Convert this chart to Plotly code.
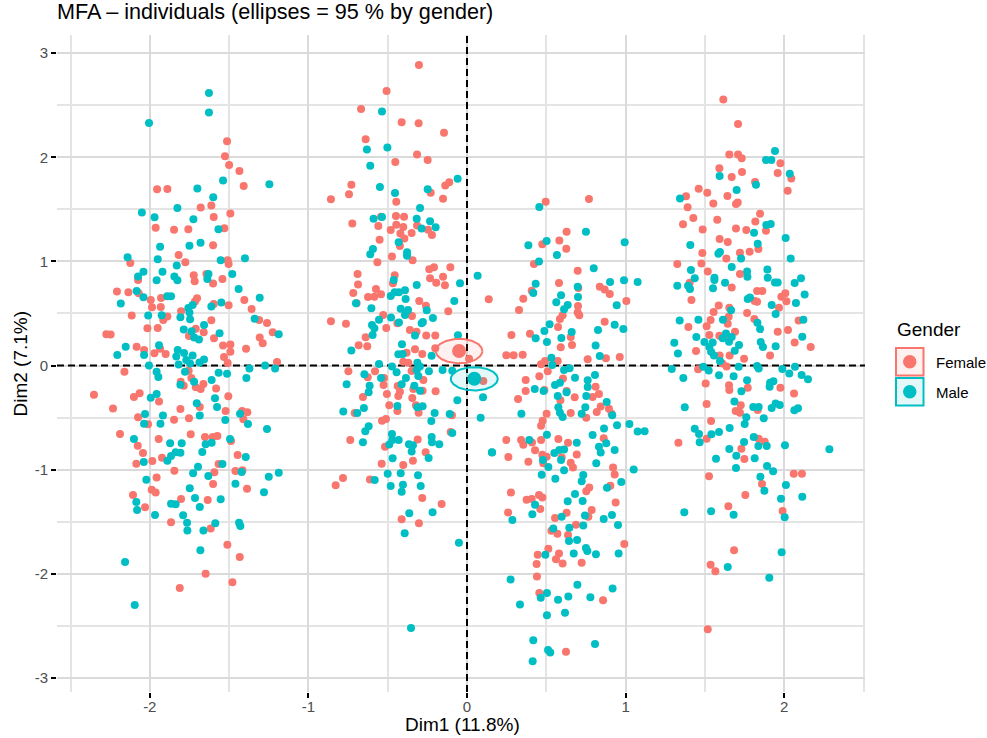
import numpy as np
import plotly.graph_objects as go

TITLE = "MFA – individuals (ellipses = 95 % by gender)"
X_TITLE = "Dim1 (11.8%)"
Y_TITLE = "Dim2 (7.1%)"
LEGEND_TITLE = "Gender"
genders = ["Female", "Male"]
x_ticks = [-2, -1, 0, 1, 2]
x_tick_labels = ["-2", "-1", "0", "1", "2"]
y_ticks = [-3, -2, -1, 0, 1, 2, 3]
y_tick_labels = ["-3", "-2", "-1", "0", "1", "2", "3"]

centroid_x = [-0.05, 0.046]
centroid_y = [0.139, -0.128]
ellipse_rx = [0.147, 0.148]
ellipse_ry = [0.117, 0.112]

female_points = [
(-1.513,2.154),(-1.526,2.01),(-1.5,1.927),(-1.435,1.869),(-1.408,1.725),(-1.954,1.693),(-1.889,1.696),(-1.679,1.517),(-1.612,1.536),(-1.492,1.459),
(-1.597,1.427),(-1.963,1.324),(-1.847,1.305),(-1.757,1.308),(-1.53,1.318),(-1.601,1.155),(-1.818,1.062),(-2.123,0.985),(-1.776,0.992),(-1.509,1.01),
(-1.503,0.975),(-1.723,0.867),(-1.643,0.88),(-1.717,0.809),(-1.542,0.83),(-1.601,0.787),(-2.074,0.822),(-2.207,0.71),(-2.135,0.703),(-2.07,0.694),
(-1.994,0.63),(-1.929,0.649),(-1.702,0.646),(-1.715,0.614),(-1.597,0.591),(-1.503,0.578),(-1.404,0.63),(-1.358,0.543),(-1.986,0.559),(-1.931,0.562),
(-2.114,0.48),(-1.803,0.521),(-1.889,0.47),(-1.915,0.438),(-1.612,0.434),(-1.311,0.438),(-1.261,0.409),(-2.015,0.357),(-1.95,0.361),(-1.71,0.354),
(-1.66,0.319),(-1.225,0.319),(-2.274,0.3),(-2.247,0.297),(-1.753,0.284),(-1.595,0.261),(-1.307,0.268),(-1.288,0.213),(-2.083,0.181),(-2.036,0.149),
(-1.935,0.162),(-1.538,0.191),(-1.492,0.201),(-1.393,0.162),(-1.492,0.133),(-1.971,0.117),(-1.9,0.111),(-1.532,0.082),(-1.509,0.025),(-1.198,0.034),
(-2.16,-0.06),(-1.755,-0.05),(-1.738,-0.12),(-1.805,-0.155),(-1.786,-0.194),(-1.662,-0.178),(-1.71,-0.21),(-1.679,-0.226),(-1.582,-0.222),(-2.352,-0.28),
(-2.1,-0.302),(-2.064,-0.267),(-1.505,-0.296),(-1.942,-0.347),(-1.685,-0.398),(-2.232,-0.414),(-1.807,-0.418),(-1.522,-0.437),(-1.418,-0.437),(-1.385,-0.45),
(-1.41,-0.517),(-2.074,-0.498),(-1.847,-0.52),(-1.753,-0.507),(-2.011,-0.565),(-2.188,-0.658),(-1.742,-0.661),(-1.652,-0.687),(-1.603,-0.687),(-1.574,-0.677),
(-1.944,-0.706),(-1.488,-0.725),(-2.076,-0.77),(-2.043,-0.84),(-1.446,-0.86),(-1.923,-0.885),(-1.984,-0.917),(-2.085,-0.943),(-1.566,-0.946),(-1.845,-1.01),
(-1.46,-1.013),(-1.416,-1.007),(-1.593,-1.026),(-1.957,-1.077),(-1.601,-1.138),(-1.387,-1.183),(-1.988,-1.193),(-1.963,-1.221),(-2.106,-1.244),(-1.803,-1.282),
(-1.635,-1.292),(-2.03,-1.362),(-1.866,-1.506),(-1.616,-1.567),(-1.511,-1.721),(-1.433,-1.84),(-1.648,-2.0),(-1.479,-2.083),(-1.811,-2.137),
(-0.303,2.887),(-0.507,2.637),(-0.668,2.464),(-0.412,2.336),(-0.305,2.327),(-0.145,2.237),(-0.639,2.173),(-0.315,2.026),(-0.248,1.974),(-0.452,1.955),
(-0.729,1.737),(-0.744,1.644),(-0.858,1.596),(-0.112,1.76),(-0.137,1.728),(-0.229,1.66),(-0.151,1.603),(-0.446,1.574),(-0.542,1.43),(-0.448,1.436),
(-0.397,1.43),(-0.723,1.363),(-0.559,1.34),(-0.446,1.353),(-0.402,1.331),(-0.315,1.344),(-0.246,1.305),(-0.481,1.302),(-0.42,1.267),(-0.221,1.254),
(-0.349,1.273),(-0.395,1.219),(-0.551,1.209),(-0.423,1.148),(-0.473,1.046),(-0.343,1.01),(-0.565,0.991),(-0.69,0.879),(-0.208,0.943),(-0.238,0.924),
(-0.105,0.943),(-0.456,0.866),(-0.233,0.838),(-0.151,0.853),(-0.467,0.79),(-0.194,0.796),(-0.139,0.77),(-0.687,0.777),(-0.574,0.735),(-0.717,0.697),
(-0.542,0.684),(-0.624,0.658),(-0.584,0.661),(-0.696,0.597),(-0.301,0.62),(-0.259,0.575),(0.137,0.636),(-0.118,0.52),(-0.347,0.476),(-0.528,0.485),
(-0.858,0.425),(-0.763,0.402),(-0.439,0.405),(-0.509,0.36),(-0.36,0.34),(-0.318,0.325),(-0.639,0.271),(-0.257,0.287),(-0.2,0.287),(-0.683,0.194),
(-0.629,0.184),(-0.2,0.165),(-0.381,0.123),(-0.328,0.155),(-0.282,0.11),(0.013,0.066),(-0.402,0.037),(-0.37,0.027),(-0.748,-0.056),(-0.58,-0.056),
(-0.349,-0.053),(-0.626,-0.114),(-0.523,-0.12),(-0.526,-0.187),(-0.275,-0.139),(-0.437,-0.197),(-0.423,-0.251),(-0.433,-0.293),(-0.28,-0.242),(-0.338,-0.226),
(-0.198,-0.248),(-0.505,-0.274),(-0.656,-0.303),(-0.345,-0.312),(-0.49,-0.383),(-0.322,-0.383),(-0.439,-0.437),(-0.305,-0.453),(-0.708,-0.456),(-0.095,-0.479),
(-0.536,-0.53),(-0.511,-0.514),(-0.103,-0.639),(-0.736,-0.716),(-0.311,-0.712),(-0.517,-0.78),(-0.261,-0.834),(-0.341,-0.914),(-0.538,-0.943),(-0.402,-0.956),
(-0.782,-1.081),(-0.828,-1.151),(-0.612,-1.094),(-0.282,-1.273),(-0.16,-1.33),(-0.412,-1.478),(-0.303,-1.516),(0.103,-0.149),
(0.496,1.574),(0.769,1.6),(0.628,1.286),(0.475,1.164),(0.582,1.2),(0.626,1.122),(0.422,0.975),(0.698,0.911),(0.58,0.793),(0.408,0.719),
(0.702,0.745),(0.837,0.757),(0.868,0.729),(0.9,0.687),(1.005,0.62),(0.355,0.642),(0.328,0.533),(0.7,0.572),(0.698,0.508),(0.708,0.482),
(0.603,0.482),(0.586,0.447),(0.574,0.37),(0.868,0.421),(0.28,0.293),(0.397,0.306),(0.654,0.274),(0.662,0.197),(0.591,0.175),(0.248,0.098),
(0.294,0.098),(0.351,0.104),(0.761,0.06),(0.876,0.069),(0.963,0.082),(0.492,0.043),(0.467,0.011),(0.572,0.043),(0.509,-0.056),(0.456,-0.104),
(0.605,-0.126),(0.37,-0.139),(0.37,-0.245),(0.488,-0.235),(0.628,-0.245),(0.322,-0.322),(0.679,-0.306),(0.589,-0.335),(0.811,-0.203),(0.832,-0.274),
(0.792,-0.302),(0.843,-0.395),(0.818,-0.447),(0.895,-0.415),(0.912,-0.463),(0.502,-0.463),(0.654,-0.456),(0.752,-0.501),(0.477,-0.53),(0.467,-0.578),
(0.248,-0.716),(0.341,-0.716),(0.355,-0.761),(0.41,-0.739),(0.467,-0.716),(0.576,-0.707),(0.637,-0.742),(0.862,-0.7),(0.429,-0.815),(0.475,-0.857),
(0.502,-0.876),(0.692,-0.854),(0.261,-0.879),(0.387,-0.924),(0.597,-0.883),(0.481,-0.94),(0.654,-0.934),(0.668,-0.979),(0.921,-0.979),(0.931,-1.046),
(0.904,-1.155),(0.771,-1.171),(0.752,-1.209),(0.277,-1.219),(0.454,-1.244),(0.475,-1.267),(0.408,-1.283),(0.376,-1.289),(0.937,-1.315),(0.462,-1.379),
(0.786,-1.389),(0.628,-1.414),(0.259,-1.411),(0.765,-1.453),(0.555,-1.465),(0.687,-1.53),(0.532,-1.587),(0.57,-1.616),(0.637,-1.629),(0.992,-1.715),
(0.513,-1.76),(0.58,-1.805),(0.446,-1.818),(0.561,-1.862),(0.603,-1.901),(0.439,-1.907),(0.723,-1.894),(0.441,-2.026),(0.456,-2.186),(0.858,-2.256),(0.624,-2.749),
(1.616,2.556),(1.709,2.319),(1.654,2.028),(1.709,2.028),(1.732,1.99),(1.976,1.942),(1.591,1.894),(1.734,1.858),(1.959,1.849),(1.669,1.81),
(2.045,1.797),(1.816,1.762),(2.022,1.679),(1.461,1.698),(1.515,1.66),(1.381,1.625),(1.642,1.628),(1.707,1.567),(1.696,1.551),(1.553,1.557),
(1.391,1.519),(1.848,1.458),(1.427,1.416),(1.578,1.4),(1.818,1.384),(1.362,1.356),(1.696,1.317),(1.486,1.307),(1.761,1.301),(1.885,1.295),
(1.593,1.215),(1.644,1.186),(1.837,1.119),(1.782,1.093),(1.721,1.083),(1.484,1.08),(1.635,1.029),(1.326,0.975),(1.478,0.981),(1.518,0.904),
(1.721,0.878),(1.404,0.795),(1.669,0.75),(1.829,0.715),(1.862,0.715),(2.007,0.693),(1.982,0.661),(1.415,0.629),(1.814,0.619),(1.829,0.613),
(2.014,0.616),(1.587,0.577),(1.654,0.555),(1.967,0.555),(1.555,0.513),(1.766,0.504),(1.65,0.469),(1.536,0.437),(1.812,0.446),(2.091,0.433),
(1.644,0.402),(1.511,0.376),(1.396,0.369),(1.69,0.325),(1.959,0.325),(2.024,0.34),(1.528,0.293),(1.591,0.286),(1.656,0.261),(2.066,0.222),
(2.167,0.177),(1.444,0.139),(1.911,0.097),(1.656,0.097),(1.593,0.097),(1.747,0.065),(1.61,0.02),(1.637,-0.01),
(1.457,-0.037),(1.505,-0.174),(1.652,-0.19),(1.654,-0.235),(1.77,-0.213),(1.976,-0.213),(2.062,-0.27),(1.511,-0.37),(1.726,-0.382),(1.833,-0.427),
(1.694,-0.437),(1.721,-0.453),(1.539,-0.533),(1.511,-0.703),(1.333,-0.741),(1.839,-0.703),(1.877,-0.732),(1.73,-0.799),(1.749,-0.898),(1.526,-1.064),
(2.06,-1.039),(2.112,-1.039),(1.86,-1.138),(1.755,-1.244),(1.648,-1.353),(1.99,-1.398),(1.684,-1.775),(1.536,-1.913),(1.566,-1.977),(1.518,-2.534),
]

male_points = [
(-1.627,2.618),(-1.627,2.43),(-2.005,2.33),(-1.538,1.776),(-1.246,1.74),(-1.7,1.7),(-1.6,1.616),(-1.826,1.514),(-2.05,1.47),(-1.97,1.424),
(-1.725,1.405),(-1.567,1.31),(-1.935,1.14),(-1.75,1.15),(-1.68,1.18),(-2.14,1.04),(-1.95,1.02),(-1.553,1.01),(-1.4,1.03),(-1.83,0.96),
(-2.04,0.9),(-1.92,0.9),(-2.074,0.854),(-1.957,0.82),(-1.845,0.854),(-1.826,0.82),(-1.63,0.88),(-1.637,0.83),(-1.48,0.88),(-1.44,0.735),
(-2.083,0.716),(-2.04,0.655),(-1.89,0.665),(-1.866,0.665),(-2.183,0.595),(-1.307,0.65),(-1.549,0.604),(-1.612,0.566),(-1.73,0.58),(-1.757,0.553),
(-1.75,0.508),(-2.01,0.48),(-1.925,0.482),(-1.807,0.463),(-1.746,0.444),(-1.339,0.45),(-1.658,0.39),(-1.786,0.345),(-1.736,0.33),(-1.56,0.31),
(-1.72,0.27),(-1.69,0.25),(-1.187,0.3),(-2.152,0.18),(-1.942,0.194),(-2.205,0.1),(-2.036,0.1),(-1.824,0.15),(-1.784,0.12),(-1.833,0.086),
(-1.73,0.095),(-1.77,0.053),(-1.658,0.057),(-1.687,0.03),(-1.746,0.02),(-1.818,0.01),(-2.005,0.0),(-1.273,0.0),(-1.372,-0.03),(-1.21,-0.03),
(-1.957,-0.06),(-1.946,-0.11),(-1.778,-0.06),(-1.566,-0.07),(-1.513,-0.08),(-1.391,-0.12),(-1.61,-0.14),(-1.807,-0.184),(-1.721,-0.155),(-1.957,-0.274),
(-1.994,-0.31),(-1.589,-0.315),(-1.704,-0.363),(-1.576,-0.398),(-2.03,-0.466),(-1.917,-0.48),(-1.685,-0.48),(-1.524,-0.523),(-1.431,-0.463),(-1.381,-0.562),
(-2.036,-0.56),(-1.933,-0.56),(-1.261,-0.61),(-2.1,-0.706),(-1.872,-0.747),(-1.799,-0.747),(-1.494,-0.706),(-1.61,-0.741),(-1.648,-0.757),(-1.669,-0.83),
(-1.807,-0.837),(-1.837,-0.834),(-1.866,-0.87),(-1.889,-0.914),(-2.038,-0.927),(-1.395,-0.879),(-1.542,-0.946),(-1.696,-0.972),(-1.727,-1.036),(-1.631,-1.061),
(-1.421,-1.023),(-1.187,-1.03),(-1.25,-1.068),(-2.022,-1.097),(-1.46,-1.135),(-1.748,-1.18),(-1.28,-1.218),(-1.715,-1.273),(-1.553,-1.285),(-2.085,-1.311),
(-1.866,-1.327),(-1.837,-1.333),(-1.685,-1.359),(-2.08,-1.388),(-1.967,-1.436),(-1.79,-1.439),(-1.765,-1.51),(-1.587,-1.516),(-1.437,-1.51),(-1.429,-1.542),
(-1.763,-1.586),(-1.662,-1.586),(-1.681,-1.775),(-2.156,-1.887),(-2.095,-2.3),
(-0.536,2.439),(-0.631,2.074),(-0.502,2.093),(-0.61,1.92),(-0.059,1.795),(-0.549,1.715),(-0.248,1.693),(-0.454,1.657),(-0.296,1.513),(-0.589,1.41),
(-0.536,1.427),(-0.317,1.41),(-0.233,1.385),(-0.198,1.327),(-0.286,1.315),(-0.431,1.183),(-0.593,1.119),(-0.61,1.068),(-0.378,1.087),(-0.378,1.055),
(-0.462,0.822),(-0.317,0.774),(-0.044,0.79),(0.067,0.863),(-0.391,0.722),(-0.429,0.703),(-0.456,0.703),(-0.481,0.668),(-0.387,0.639),(-0.08,0.62),
(-0.7,0.597),(-0.603,0.55),(-0.418,0.546),(-0.372,0.533),(-0.254,0.53),(-0.391,0.485),(-0.479,0.46),(-0.555,0.44),(-0.215,0.457),(-0.278,0.418),
(-0.286,0.405),(-0.599,0.389),(-0.429,0.412),(-0.584,0.357),(-0.595,0.293),(-0.328,0.287),(-0.057,0.29),(-0.41,0.204),(-0.729,0.143),(-0.433,0.107),
(-0.406,0.11),(-0.223,0.094),(-0.555,0.014),(-0.473,-0.01),(-0.313,0.027),(-0.297,-0.01),(-0.444,-0.066),(-0.317,-0.043),(-0.24,-0.056),(-0.154,-0.043),
(-0.093,-0.05),(-0.647,-0.085),(-0.307,-0.101),(-0.542,-0.12),(-0.385,-0.12),(-0.759,-0.181),(-0.614,-0.194),(-0.412,-0.181),(-0.332,-0.194),(-0.62,-0.258),
(-0.296,-0.242),(-0.061,-0.335),(0.101,-0.306),(-0.65,-0.408),(-0.439,-0.389),(-0.313,-0.402),(-0.28,-0.392),(-0.78,-0.443),(-0.692,-0.456),(-0.204,-0.456),
(-0.109,-0.466),(0.086,-0.501),(-0.225,-0.533),(-0.62,-0.584),(-0.641,-0.632),(-0.093,-0.648),(-0.473,-0.658),(-0.223,-0.687),(-0.471,-0.716),(-0.431,-0.716),
(-0.656,-0.738),(-0.49,-0.76),(-0.221,-0.738),(-0.175,-0.757),(-0.366,-0.757),(-0.341,-0.767),(-0.349,-0.825),(0.157,-0.834),(-0.242,-0.889),(-0.469,-0.892),
(-0.5,-1.039),(-0.418,-1.036),(-0.309,-1.055),(-0.582,-1.1),(-0.481,-1.158),(-0.404,-1.145),(-0.292,-1.158),(-0.412,-1.212),(-0.364,-1.42),(-0.217,-1.41),
(-0.393,-1.612),(-0.051,-1.702),(-0.353,-2.522),
(0.456,1.523),(0.75,1.286),(0.994,1.183),(0.387,1.154),(0.502,1.196),(0.567,1.062),(0.454,1.0),(0.799,0.934),(0.433,0.786),(0.418,0.697),
(0.698,0.757),(0.902,0.802),(0.99,0.818),(1.076,0.802),(0.593,0.674),(0.7,0.658),(0.563,0.607),(0.635,0.581),(0.612,0.54),(0.944,0.578),
(0.521,0.396),(0.488,0.332),(0.931,0.392),(0.986,0.351),(0.826,0.341),(0.66,0.322),(0.433,0.261),(0.595,0.264),(0.504,0.226),(0.811,0.191),
(0.837,0.091),(0.532,0.075),(0.538,0.005),(0.647,-0.027),(0.612,-0.043),(0.807,-0.091),(0.681,-0.117),(0.761,-0.142),(0.586,-0.165),(0.555,-0.187),
(0.761,-0.206),(0.427,-0.226),(0.483,-0.245),(0.628,-0.258),(0.572,-0.293),(0.752,-0.293),(0.881,-0.35),(0.576,-0.402),(0.746,-0.402),(0.343,-0.463),
(0.586,-0.453),(0.603,-0.495),(0.723,-0.463),(0.916,-0.479),(1.024,-0.562),(0.946,-0.575),(0.864,-0.604),(1.076,-0.635),(1.12,-0.632),
(0.792,-0.668),(0.504,-0.665),(0.393,-0.716),(0.692,-0.742),(0.878,-0.748),(0.832,-0.78),(0.843,-0.835),(0.931,-0.812),(0.612,-0.806),(0.582,-0.812),
(0.551,-0.841),(0.158,-0.835),(0.593,-0.908),(0.479,-0.908),(0.815,-0.94),(0.513,-0.975),(0.612,-1.007),(0.471,-1.049),(1.051,-1.0),(0.733,-1.052),
(0.557,-1.088),(0.723,-1.113),(0.973,-1.12),(0.883,-1.174),(0.681,-1.235),(0.635,-1.305),(0.729,-1.302),(0.429,-1.337),(0.412,-1.43),(0.286,-1.485),
(0.597,-1.453),(0.744,-1.44),(0.914,-1.437),(0.862,-1.475),(0.952,-1.533),(0.733,-1.536),(0.645,-1.558),(0.544,-1.565),(0.694,-1.677),(0.643,-1.686),
(0.75,-1.754),(0.759,-1.782),(0.813,-1.814),(0.673,-1.805),(0.494,-1.818),(0.956,-1.805),(0.275,-2.055),(0.696,-2.106),(0.918,-2.141),(0.504,-2.186),
(0.465,-2.231),(0.574,-2.25),(0.639,-2.218),(0.778,-2.227),(0.334,-2.295),(0.504,-2.4),(0.618,-2.375),(0.418,-2.64),(0.807,-2.676),(0.511,-2.733),
(0.525,-2.756),(0.414,-2.842),
(1.942,2.06),(1.885,1.974),(1.919,1.974),(2.035,1.842),(1.593,1.82),(1.822,1.737),(1.7,1.685),(1.343,1.605),(1.915,1.359),(1.887,1.349),
(1.81,1.276),(2.009,1.224),(1.408,1.157),(1.833,1.17),(1.595,1.09),(1.585,1.074),(1.728,1.029),(2.041,1.029),(1.669,0.946),(1.412,0.917),
(1.894,0.923),(1.766,0.904),(1.768,0.853),(1.56,0.843),(1.56,0.821),(1.436,0.837),(1.896,0.843),(1.627,0.795),(2.106,0.837),(2.066,0.792),
(1.942,0.798),(1.959,0.798),(1.326,0.766),(1.394,0.766),(1.406,0.734),(1.551,0.741),(2.129,0.683),(1.77,0.638),(1.784,0.654),(2.074,0.6),
(1.921,0.581),(1.946,0.494),(1.665,0.53),(1.341,0.433),(1.459,0.44),(1.614,0.44),(1.831,0.411),(1.848,0.35),(2.121,0.44),(1.633,0.308),
(1.446,0.273),(2.114,0.276),(1.307,0.219),(1.612,0.261),(1.669,0.273),(1.652,0.228),(1.497,0.225),(1.549,0.222),(1.528,0.177),(1.852,0.225),
(1.866,0.177),(1.946,0.184),(1.715,0.196),(1.688,0.142),(1.33,0.116),(1.539,0.133),(1.557,0.097),(1.595,0.043),
(1.291,-0.033),(1.49,-0.011),(1.524,-0.049),(1.713,-0.011),(1.829,-0.005),(1.839,-0.03),(1.988,-0.033),(2.068,-0.011),(2.032,-0.078),(2.11,-0.091),
(2.15,-0.133),(1.364,-0.12),(1.589,-0.094),(1.681,-0.104),(1.766,-0.142),(1.932,-0.152),(1.911,-0.165),(1.908,-0.203),(1.73,-0.248),(1.686,-0.347),
(1.373,-0.402),(1.805,-0.398),(1.839,-0.398),(1.921,-0.408),(1.946,-0.366),(1.972,-0.379),(2.064,-0.43),(2.087,-0.411),(1.761,-0.498),(1.871,-0.507),
(1.751,-0.562),(1.436,-0.607),(1.656,-0.6),(1.463,-0.658),(1.541,-0.661),(1.589,-0.639),(1.467,-0.738),(1.808,-0.687),(1.747,-0.735),(1.837,-0.773),
(1.89,-0.773),(2.005,-0.767),(2.285,-0.805),(1.654,-0.802),(1.698,-0.866),(1.57,-0.895),(1.814,-0.892),(1.696,-0.984),(1.892,-0.965),(1.93,-1.016),
(1.85,-1.068),(2.011,-1.148),(1.875,-1.202),(1.98,-1.279),(2.114,-1.26),(1.37,-1.41),(1.539,-1.401),(1.681,-1.433),(2.003,-1.458),(1.984,-1.795),
(1.644,-1.935),(1.906,-2.038),
]

W, H = 987, 738
L, R, T, B = 57, 865, 35, 692
COL = ["#F8766D", "#00BFC4"]
FILL = ["rgba(248,118,109,0.1)", "rgba(0,191,196,0.1)"]
FONT = "Liberation Sans, Arial, sans-serif"

fig = go.Figure()
x_range = [(L - 467) / 158.6, (R - 467) / 158.6]
y_range = [(365.5 - B) / 104.1, (365.5 - T) / 104.1]

# reference lines through the origin
ref = dict(color="black", width=2, dash="7px,4px")
fig.add_trace(go.Scatter(x=x_range, y=[0, 0], mode="lines", line=ref, hoverinfo="skip"))
fig.add_trace(go.Scatter(x=[0, 0], y=y_range, mode="lines", line=ref, hoverinfo="skip"))

for pts, c, name in zip([female_points, male_points], COL, genders):
    xs, ys = zip(*pts)
    fig.add_trace(go.Scatter(x=xs, y=ys, mode="markers", name=name,
                             marker=dict(size=8, color=c, line=dict(width=0))))

# confidence ellipses, then the group centroids
t = np.linspace(0, 2 * np.pi, 120)
for i in range(2):
    fig.add_trace(go.Scatter(
        x=centroid_x[i] + ellipse_rx[i] * np.cos(t),
        y=centroid_y[i] + ellipse_ry[i] * np.sin(t),
        mode="lines", fill="toself", fillcolor=FILL[i],
        line=dict(color=COL[i], width=2), hoverinfo="skip"))
for i in range(2):
    fig.add_trace(go.Scatter(x=[centroid_x[i]], y=[centroid_y[i]], mode="markers",
                             marker=dict(size=14, color=COL[i], line=dict(width=0)),
                             name=genders[i] + " centroid"))


def px(x):
    return (x - L) / (R - L)


def py(y):
    return (B - y) / (B - T)


def label(text, x, y, size, **kw):
    return dict(text=text, x=px(x), y=py(y), xref="paper", yref="paper", showarrow=False,
                yanchor="middle", font=dict(family=FONT, size=size, color="black"), **kw)


# axis titles and hand-built legend, outside the panel
shapes = []
annotations = [
    label(X_TITLE, 462, 724, 19, xanchor="center"),
    label(Y_TITLE, 20, 363.5, 19, xanchor="center", textangle=-90),
    label(LEGEND_TITLE, 895, 329, 19, xanchor="left"),
]
tops = [347, 377]
for i in range(2):
    y0 = tops[i]
    shapes.append(dict(type="rect", xref="paper", yref="paper",
                       x0=px(896), x1=px(923.5), y0=py(y0 + 1), y1=py(y0 + 28.5),
                       fillcolor=FILL[i], line=dict(color=COL[i], width=2)))
    shapes.append(dict(type="circle", xref="paper", yref="paper",
                       x0=px(903), x1=px(916.5), y0=py(y0 + 8), y1=py(y0 + 21.5),
                       fillcolor=COL[i], line=dict(width=0)))
    annotations.append(label(genders[i], 933.5, y0 + 15, 15, xanchor="left"))


def axis(rng, vals, labels, **kw):
    return dict(
        range=rng, tickmode="array", tickvals=vals, ticktext=labels, automargin=False,
        ticks="outside", ticklen=5, tickwidth=1.5, tickcolor="black",
        tickfont=dict(family=FONT, size=15, color="#4d4d4d"),
        showgrid=True, gridcolor="#dadada", gridwidth=2,
        minor=dict(dtick=0.5, tick0=0, showgrid=True, gridcolor="#e4e4e4", gridwidth=1.5, ticks=""),
        zeroline=False, showline=False, **kw,
    )


fig.update_layout(
    width=W, height=H, autosize=False, showlegend=False,
    paper_bgcolor="white", plot_bgcolor="white",
    margin=dict(l=L, r=W - R, t=T, b=H - B),
    title=dict(text=TITLE, x=57 / W, xanchor="left", xref="container",
               y=1 - 11 / H, yanchor="middle", yref="container", automargin=False,
               font=dict(family=FONT, size=21.6, color="black")),
    xaxis=axis(x_range, x_ticks, x_tick_labels, ticklabelstandoff=-4),
    yaxis=axis(y_range, y_ticks, y_tick_labels),
    shapes=shapes, annotations=annotations,
)
fig.write_html("out.html", config={"displayModeBar": False},
               post_script="document.body.style.margin='0';document.body.style.overflow='hidden';")
